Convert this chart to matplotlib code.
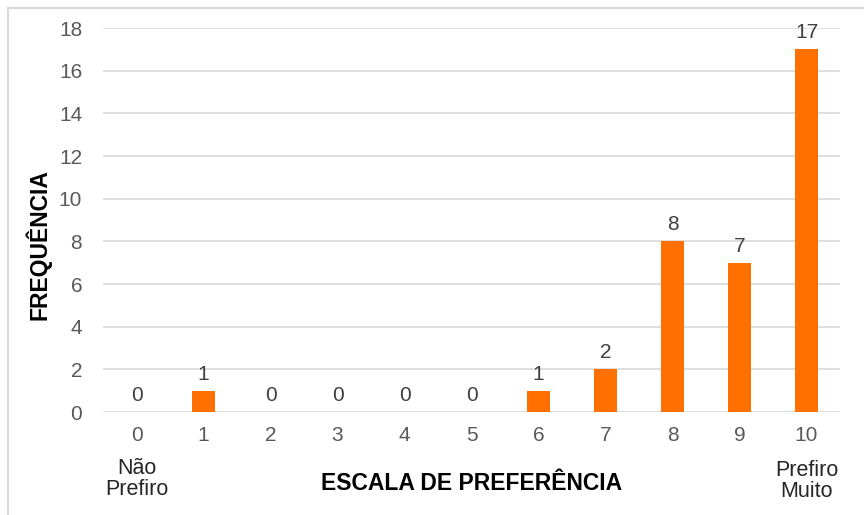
import matplotlib.pyplot as plt
from matplotlib.patches import Rectangle
import matplotlib.transforms as mtransforms

plt.rcParams["font.family"] = ["Liberation Sans", "DejaVu Sans"]

# dados
escala = ["0", "1", "2", "3", "4", "5", "6", "7", "8", "9", "10"]
frequencia = [0, 1, 0, 0, 0, 0, 1, 2, 8, 7, 17]
y_ticks = [0, 2, 4, 6, 8, 10, 12, 14, 16, 18]

W, H = 864, 515
fig = plt.figure(figsize=(W / 100, H / 100), dpi=100)
fig.patch.set_facecolor("white")

# moldura do gráfico (estilo Excel)
fig.patches.append(Rectangle((8 / W, -0.02), 1.1, 1 - 8 / H + 0.02,
                             transform=fig.transFigure, fill=False,
                             edgecolor="#D9D9D9", lw=1.5))

ax = fig.add_axes([103 / W, 1 - 412 / H, (840 - 103) / W, (412 - 28) / H])
x = list(range(len(escala)))
bars = ax.bar(x, frequencia, width=0.33, color="#FF7000", zorder=3)

for xi, v in zip(x, frequencia):
    ax.annotate(str(v), (xi, v), xytext=(0, 5), textcoords="offset points",
                ha="center", va="bottom", fontsize=15, color="#404040")

ax.set_xlim(-0.5, 10.5)
ax.set_ylim(0, 18)
ax.set_yticks(y_ticks)
ax.set_xticks(x)
ax.set_xticklabels(escala)
ax.tick_params(axis="both", length=0, labelsize=15, labelcolor="#595959")
ax.tick_params(axis="x", pad=10)
ax.tick_params(axis="y", pad=15)
ax.grid(axis="y", color="#D9D9D9", lw=1.2, zorder=0)
for s in ax.spines.values():
    s.set_visible(False)

trans = mtransforms.blended_transform_factory(ax.transData, fig.transFigure)
ax.text(0, 1 - 479 / H, "Não\nPrefiro", transform=trans, ha="center",
        va="center", fontsize=15.5, color="#262626", linespacing=1.05)
ax.text(10, 1 - 481 / H, "Prefiro\nMuito", transform=trans, ha="center",
        va="center", fontsize=15.5, color="#262626", linespacing=1.05)

fig.text(472 / W, 1 - 484 / H, "ESCALA DE PREFERÊNCIA", ha="center",
         va="center", fontsize=16.5, fontweight="bold", color="black")
fig.text(38 / W, 1 - 245 / H, "FREQUÊNCIA", ha="center", va="center",
         rotation=90, fontsize=16.5, fontweight="bold", color="black")

fig.savefig("out.png", dpi=100, facecolor="white")
